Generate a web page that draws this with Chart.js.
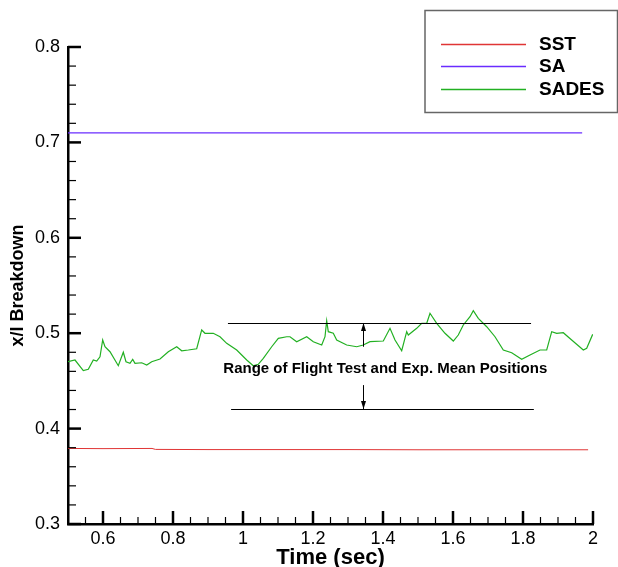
<!DOCTYPE html>
<html>
<head>
<meta charset="utf-8">
<script src="https://cdn.jsdelivr.net/npm/chart.js@4/dist/chart.umd.min.js"></script>
<style>
  body { margin: 0; background: #fff; }
  canvas { display: block; }
</style>
</head>
<body>
<canvas id="breakdown-chart" width="618" height="567"></canvas>
<script>
// values
var sstTime  = [0.5, 0.6, 0.74, 0.75, 0.9, 1.1, 1.3, 1.5, 1.7, 1.9, 1.986];
var sstValue = [0.3792, 0.379, 0.3792, 0.3782, 0.378, 0.378, 0.378, 0.3778, 0.3778, 0.3778, 0.3778];

var saTime  = [0.5, 1.969];
var saValue = [0.71, 0.71];

var sadesTime = [0.5, 0.52, 0.5437, 0.558, 0.5723, 0.582, 0.5914, 0.5991, 0.6057, 0.62,
  0.6437, 0.658, 0.6657, 0.6771, 0.6849, 0.6914, 0.7106, 0.7249, 0.7391, 0.7629,
  0.7866, 0.8106, 0.8249, 0.8437, 0.8677, 0.882, 0.8914, 0.9151, 0.9343, 0.9534,
  0.982, 1.0106, 1.0294, 1.0437, 1.058, 1.082, 1.1009, 1.1249, 1.1343, 1.1534,
  1.182, 1.2009, 1.2249, 1.2343, 1.2391, 1.2437, 1.258, 1.2677, 1.2963, 1.3249,
  1.3437, 1.3629, 1.4009, 1.42, 1.4343, 1.4534, 1.4677, 1.4723, 1.4963, 1.5106,
  1.5249, 1.5343, 1.5534, 1.5771, 1.6009, 1.6151, 1.6294, 1.6486, 1.658, 1.6723,
  1.6963, 1.72, 1.7437, 1.7677, 1.7963, 1.82, 1.8486, 1.8677, 1.882, 1.8963,
  1.9151, 1.9391, 1.9723, 1.982, 1.9991];
var sadesValue = [0.4701, 0.4719, 0.4607, 0.4621, 0.4719, 0.4708, 0.4753, 0.4929, 0.4858, 0.4806,
  0.4659, 0.48, 0.4701, 0.4684, 0.4726, 0.4684, 0.469, 0.4666, 0.4701, 0.4729,
  0.4806, 0.4858, 0.4816, 0.4824, 0.4837, 0.5034, 0.4999, 0.4999, 0.4963, 0.4894,
  0.4824, 0.4719, 0.4659, 0.4674, 0.4737, 0.4858, 0.4946, 0.4963, 0.4963, 0.4911,
  0.4963, 0.4911, 0.4876, 0.4963, 0.5131, 0.5016, 0.4999, 0.4929, 0.4876, 0.4858,
  0.4876, 0.4911, 0.4918, 0.5051, 0.4929, 0.4816, 0.5016, 0.4981, 0.5051, 0.5104,
  0.5104, 0.5209, 0.5104, 0.4999, 0.4918, 0.4981, 0.5086, 0.5173, 0.5236, 0.5156,
  0.5068, 0.4963, 0.4824, 0.4795, 0.4726, 0.4771, 0.4824, 0.4824, 0.5016, 0.4999,
  0.5005, 0.4929, 0.4824, 0.4842, 0.4988];

var xTicks = [0.6, 0.8, 1, 1.2, 1.4, 1.6, 1.8, 2];
var yTicks = [0.3, 0.4, 0.5, 0.6, 0.7, 0.8];

// range bracket: [xStart, xEnd, y]
var rangeTop = [0.957, 1.823, 0.5107];
var rangeBottom = [0.966, 1.831, 0.4205];
var arrowX = 1.343;
var arrowUp = [0.4858, 0.5107];
var arrowDown = [0.4456, 0.4205];
var rangeLabel = 'Range of Flight Test and Exp. Mean Positions';
var rangeLabelAt = [1.4066, 0.4624];

function pts(xs, ys) {
  return xs.map(function (x, i) { return { x: x, y: ys[i] }; });
}

// inward major/minor ticks like the original plot
var tickMarks = {
  id: 'tickMarks',
  afterDraw: function (chart) {
    var ctx = chart.ctx;
    var xs = chart.scales.x, ys = chart.scales.y;
    var left = xs.left, bottom = ys.bottom;
    ctx.save();
    ctx.strokeStyle = '#000';
    for (var i = 0; i <= 25; i++) {
      var v = 0.3 + i * 0.02;
      var py = ys.getPixelForValue(v);
      var major = i % 5 === 0;
      ctx.lineWidth = major ? 2.5 : 1.2;
      ctx.beginPath();
      ctx.moveTo(left, py);
      ctx.lineTo(left + (major ? 13 : 8), py);
      ctx.stroke();
    }
    for (var j = 0; j <= 30; j++) {
      var t = 0.5 + j * 0.05;
      var px = xs.getPixelForValue(t);
      var maj = j > 0 && (j - 2) % 4 === 0;
      ctx.lineWidth = maj ? 2.5 : 1.2;
      ctx.beginPath();
      ctx.moveTo(px, bottom);
      ctx.lineTo(px, bottom - (maj ? 13 : 7));
      ctx.stroke();
    }
    ctx.restore();
  }
};

function arrow(ctx, x, y0, y1) {
  ctx.beginPath();
  ctx.moveTo(x, y0);
  ctx.lineTo(x, y1);
  ctx.stroke();
  var dir = y1 > y0 ? 1 : -1;
  ctx.beginPath();
  ctx.moveTo(x, y1);
  ctx.lineTo(x - 2.5, y1 - dir * 8);
  ctx.lineTo(x + 2.5, y1 - dir * 8);
  ctx.closePath();
  ctx.fill();
}

var rangeNote = {
  id: 'rangeNote',
  afterDatasetsDraw: function (chart) {
    var ctx = chart.ctx;
    var xs = chart.scales.x, ys = chart.scales.y;
    ctx.save();
    ctx.strokeStyle = '#000';
    ctx.fillStyle = '#000';
    ctx.lineWidth = 1;
    [rangeTop, rangeBottom].forEach(function (r) {
      var py = Math.round(ys.getPixelForValue(r[2])) + 0.5;
      ctx.beginPath();
      ctx.moveTo(xs.getPixelForValue(r[0]), py);
      ctx.lineTo(xs.getPixelForValue(r[1]), py);
      ctx.stroke();
    });
    var ax = Math.round(xs.getPixelForValue(arrowX)) + 0.5;
    arrow(ctx, ax, ys.getPixelForValue(arrowUp[0]), ys.getPixelForValue(arrowUp[1]));
    arrow(ctx, ax, ys.getPixelForValue(arrowDown[0]), ys.getPixelForValue(arrowDown[1]));
    ctx.font = 'bold 15px Arial, "Liberation Sans", sans-serif';
    ctx.textAlign = 'center';
    ctx.textBaseline = 'middle';
    ctx.fillText(rangeLabel, xs.getPixelForValue(rangeLabelAt[0]), ys.getPixelForValue(rangeLabelAt[1]));
    ctx.restore();
  }
};

var boxLegend = {
  id: 'boxLegend',
  afterDraw: function (chart) {
    var ctx = chart.ctx;
    ctx.save();
    ctx.strokeStyle = '#666';
    ctx.lineWidth = 1.5;
    ctx.strokeRect(425, 10.5, 192.5, 102);
    ctx.font = 'bold 19px Arial, "Liberation Sans", sans-serif';
    ctx.textBaseline = 'middle';
    ctx.fillStyle = '#000';
    chart.data.datasets.forEach(function (ds, i) {
      var y = Math.round(43.7 + i * 22.5) + 0.5;
      ctx.strokeStyle = ds.borderColor;
      ctx.lineWidth = 1.3;
      ctx.beginPath();
      ctx.moveTo(441, y);
      ctx.lineTo(526, y);
      ctx.stroke();
      ctx.fillText(ds.label, 539, y);
    });
    ctx.restore();
  }
};

var ctx = document.getElementById('breakdown-chart').getContext('2d');
var breakdownChart = new Chart(ctx, {
  type: 'line',
  data: {
    datasets: [{
      label: 'SST',
      data: pts(sstTime, sstValue),
      borderColor: '#e03535',
      borderWidth: 1
    }, {
      label: 'SA',
      data: pts(saTime, saValue),
      borderColor: '#6a2cff',
      borderWidth: 1.2
    }, {
      label: 'SADES',
      data: pts(sadesTime, sadesValue),
      borderColor: '#22b022',
      borderWidth: 1.2
    }]
  },
  options: {
    responsive: false,
    animation: false,
    layout: { padding: { top: 47, right: 25, left: 0, bottom: 0 } },
    elements: {
      point: { radius: 0 },
      line: { tension: 0 }
    },
    plugins: {
      legend: { display: false },
      tooltip: { enabled: false }
    },
    scales: {
      x: {
        type: 'linear',
        min: 0.5,
        max: 2,
        afterBuildTicks: function (s) { s.ticks = xTicks.map(function (v) { return { value: v }; }); },
        afterFit: function (s) { s.height = 43; },
        grid: { display: false, drawTicks: false },
        border: { display: true, color: '#000', width: 2.5 },
        ticks: {
          padding: 4,
          color: '#000',
          font: { family: 'Arial, "Liberation Sans", sans-serif', size: 18 },
          maxRotation: 0,
          callback: function (v) { return String(+v.toFixed(2)); }
        },
        title: {
          display: true,
          text: 'Time (sec)',
          color: '#000',
          padding: { top: 0, bottom: -2 },
          font: { family: 'Arial, "Liberation Sans", sans-serif', size: 22, weight: 'bold', lineHeight: 1 }
        }
      },
      y: {
        type: 'linear',
        min: 0.3,
        max: 0.8,
        afterBuildTicks: function (s) { s.ticks = yTicks.map(function (v) { return { value: v }; }); },
        afterFit: function (s) { s.width = 68; },
        grid: { display: false, drawTicks: false },
        border: { display: true, color: '#000', width: 2.5 },
        ticks: {
          padding: 8,
          color: '#000',
          font: { family: 'Arial, "Liberation Sans", sans-serif', size: 18 },
          callback: function (v) { return String(+v.toFixed(2)); }
        },
        title: {
          display: true,
          text: 'x/l Breakdown',
          color: '#000',
          padding: { top: 7, bottom: 0 },
          font: { family: 'Arial, "Liberation Sans", sans-serif', size: 18, weight: 'bold' }
        }
      }
    }
  },
  plugins: [tickMarks, rangeNote, boxLegend]
});
</script>
</body>
</html>
